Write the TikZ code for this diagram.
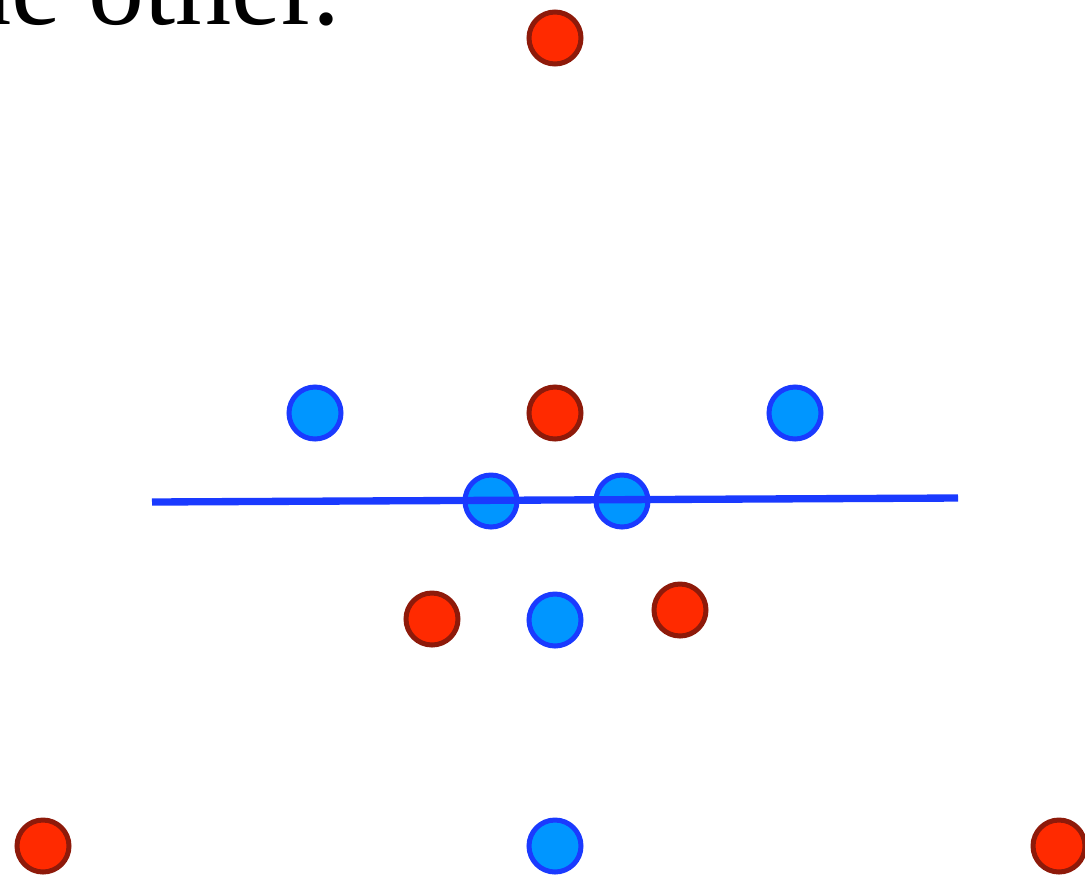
\documentclass[tikz,border=0pt]{standalone}
\usepackage{fontspec}
\setmainfont{Liberation Serif}
\definecolor{redfill}{HTML}{FF2A00}
\definecolor{redline}{HTML}{8E1A0A}
\definecolor{bluefill}{HTML}{0096FF}
\definecolor{blueline}{HTML}{1A3AFF}
\begin{document}
\begin{tikzpicture}[x=0.75pt,y=-0.75pt,
  reddot/.style={circle,draw=redline,fill=redfill,line width=3.75pt,minimum size=39pt,inner sep=0pt},
  bluedot/.style={circle,draw=blueline,fill=bluefill,line width=3.75pt,minimum size=39pt,inner sep=0pt},
  cut/.style={draw=blueline,line width=5.5pt}]
\useasboundingbox (0,0) rectangle (1085,876);
\clip (0,0) rectangle (1085,876);
\node[anchor=base east,font=\fontsize{84}{96}\selectfont,inner sep=0pt] (txt) at (341,24) {the other.};
\node[reddot] (r1) at (555,38) {};
\node[bluedot] (b1) at (315,413) {};
\node[reddot] (r2) at (555,413) {};
\node[bluedot] (b2) at (795,413) {};
\node[bluedot] (b3) at (491,501) {};
\node[bluedot] (b4) at (622,501) {};
\node[reddot] (r3) at (432,619) {};
\node[bluedot] (b5) at (555,620) {};
\node[reddot] (r4) at (680,610) {};
\node[reddot] (r5) at (43,846) {};
\node[bluedot] (b6) at (555,846) {};
\node[reddot] (r6) at (1059,846) {};
\coordinate (la) at (152,502);
\coordinate (lb) at (958,498);
\draw[cut] (la) -- (lb);
\end{tikzpicture}
\end{document}
